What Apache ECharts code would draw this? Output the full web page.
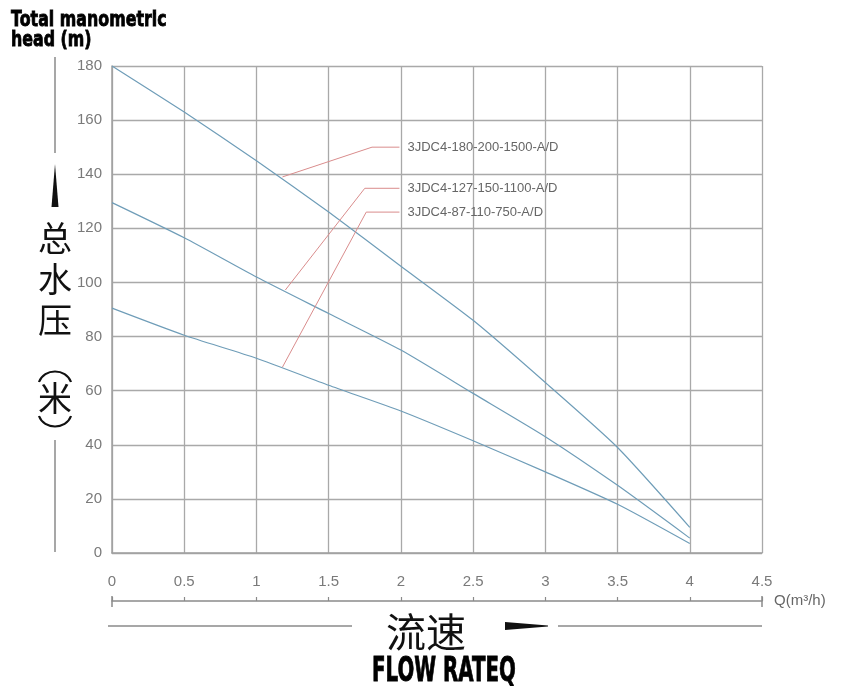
<!DOCTYPE html>
<html>
<head>
<meta charset="utf-8">
<script src="https://cdn.jsdelivr.net/npm/echarts@6/dist/echarts.min.js"></script>
<style>html,body{margin:0;padding:0;background:#fff;}#c{width:849px;height:691px;}</style>
</head>
<body>
<div id="c"></div>
<script>
// ---- data ----
var flowTicks = [0, 0.5, 1, 1.5, 2, 2.5, 3, 3.5, 4, 4.5];
var headTicks = [0, 20, 40, 60, 80, 100, 120, 140, 160, 180];
var flowQ = [0, 0.5, 1, 1.5, 2, 2.5, 3, 3.5, 4];
var pump1500 = [180, 163, 145, 126, 106, 86, 63, 39, 9.5];
var pump1100 = [129.5, 116.5, 102, 88.5, 75, 59, 43, 25, 5.5];
var pump750  = [90.5, 80.5, 72, 62, 52.5, 41.5, 30, 18, 3.5];
var names = ['3JDC4-180-200-1500-A/D', '3JDC4-127-150-1100-A/D', '3JDC4-87-110-750-A/D'];
var leader1500 = [[1.18, 139], [1.80, 150], [1.99, 150]];
var leader1100 = [[1.20, 97.2], [1.75, 134.8], [1.99, 134.8]];
var leader750  = [[1.18, 68.7], [1.76, 126], [1.99, 126]];

function pairs(xs, ys) { return xs.map(function (x, i) { return [x, ys[i]]; }); }

var chart = echarts.init(document.getElementById('c'));
var gridColor = '#a9a9a9';
var curveStyle = { color: '#6f9db8', width: 1.2 };
var leaderStyle = { color: '#d98c8c', width: 1 };
var latin = 'Liberation Sans, Arial, sans-serif';
var narrow = 'Liberation Sans Narrow, Liberation Sans, sans-serif';

function curve(name, data) {
  return { name: name, type: 'line', data: data, smooth: 0.2, symbol: 'none',
           lineStyle: curveStyle, itemStyle: { color: curveStyle.color }, silent: true, z: 3 };
}
function leader(name, pts) {
  return { name: name, type: 'line', data: pts, symbol: 'none',
           lineStyle: leaderStyle, itemStyle: { color: leaderStyle.color }, silent: true, z: 4,
           endLabel: { show: true, formatter: name, distance: 8, color: '#666', fontSize: 13, fontFamily: latin } };
}

var option = {
  animation: false,
  grid: { left: 112, right: 87, top: 66, bottom: 138 },
  xAxis: [{
    type: 'value', min: flowTicks[0], max: flowTicks[flowTicks.length - 1], interval: 0.5,
    axisLine: { show: true, lineStyle: { color: '#a0a0a0', width: 1.5 } },
    axisTick: { show: false },
    splitLine: { show: true, lineStyle: { color: gridColor, width: 1.3 } },
    axisLabel: { margin: 21, color: '#7a7a7a', fontSize: 15, fontFamily: narrow }
  }, {
    type: 'value', position: 'bottom', offset: 48,
    min: flowTicks[0], max: flowTicks[flowTicks.length - 1], interval: 0.5,
    axisLine: { show: true, onZero: false, lineStyle: { color: '#8a8a8a', width: 1.5 } },
    axisTick: { show: true, inside: true, length: 4, lineStyle: { color: '#8a8a8a', width: 1.2 } },
    splitLine: { show: false },
    axisLabel: { show: false },
    name: 'Q(m³/h)', nameLocation: 'end', nameGap: 12,
    nameTextStyle: { color: '#666', fontSize: 15, fontFamily: narrow, verticalAlign: 'middle' }
  }],
  yAxis: {
    type: 'value', min: headTicks[0], max: headTicks[headTicks.length - 1], interval: 20,
    axisLine: { show: true, lineStyle: { color: '#a0a0a0', width: 1.5 } },
    axisTick: { show: false },
    splitLine: { show: true, lineStyle: { color: gridColor, width: 1.3 } },
    axisLabel: { margin: 10, color: '#7a7a7a', fontSize: 15, fontFamily: narrow }
  },
  series: [
    curve(names[0], pairs(flowQ, pump1500)),
    curve(names[1], pairs(flowQ, pump1100)),
    curve(names[2], pairs(flowQ, pump750)),
    leader(names[0], leader1500),
    leader(names[1], leader1100),
    leader(names[2], leader750)
  ]
};
chart.setOption(option);

var x0 = chart.convertToPixel({ xAxisIndex: 0 }, flowTicks[0]);
var x1 = chart.convertToPixel({ xAxisIndex: 0 }, flowTicks[flowTicks.length - 1]);
var rulerY = 553 + 48;
var darkLine = { stroke: '#8a8a8a', lineWidth: 1.5 };
var cjk = 'Noto Sans CJK SC, sans-serif';
var heavy = 'DejaVu Sans, sans-serif';

function vchar(ch, y) {
  return { type: 'text', x: 55, y: y, style: { text: ch, fontSize: 34, fontFamily: cjk, fill: '#111',
           textAlign: 'center', textVerticalAlign: 'middle' } };
}
function heavyText(txt, x, y, size, sx, align) {
  return { type: 'text', x: x, y: y, scaleX: sx, style: { text: txt, fontSize: size, fontWeight: 'bold',
           fontFamily: heavy, fill: '#000', stroke: '#000', lineWidth: 0.9,
           textAlign: align, textVerticalAlign: 'middle' } };
}

chart.setOption({
  graphic: [
    // title
    heavyText('Total manometric', 11, 20, 22, 0.72, 'left'),
    heavyText('head (m)', 11, 40, 22, 0.72, 'left'),
    // left vertical decoration
    { type: 'line', shape: { x1: 55, y1: 57, x2: 55, y2: 153 }, style: darkLine },
    { type: 'polygon', shape: { points: [[51.5, 207], [58.5, 207], [55, 164]] }, style: { fill: '#111' } },
    vchar('总', 238), vchar('水', 279), vchar('压', 320), vchar('米', 398),
    { type: 'bezierCurve', shape: { x1: 39, y1: 382, x2: 71, y2: 382, cpx1: 44, cpy1: 368, cpx2: 66, cpy2: 368 },
      style: { stroke: '#111', lineWidth: 2.2, fill: null } },
    { type: 'bezierCurve', shape: { x1: 39, y1: 416, x2: 71, y2: 416, cpx1: 44, cpy1: 430, cpx2: 66, cpy2: 430 },
      style: { stroke: '#111', lineWidth: 2.2, fill: null } },
    { type: 'line', shape: { x1: 55, y1: 440, x2: 55, y2: 552 }, style: darkLine },
    // ruler end caps
    { type: 'line', shape: { x1: x0, y1: rulerY - 5, x2: x0, y2: rulerY + 6 }, style: darkLine },
    { type: 'line', shape: { x1: x1, y1: rulerY - 5, x2: x1, y2: rulerY + 6 }, style: darkLine },
    // bottom decoration
    { type: 'line', shape: { x1: 108, y1: 626, x2: 352, y2: 626 }, style: darkLine },
    { type: 'text', x: 426, y: 632, style: { text: '流速', fontSize: 40, fontFamily: cjk, fill: '#111',
      textAlign: 'center', textVerticalAlign: 'middle' } },
    { type: 'polygon', shape: { points: [[505, 622], [505, 630], [548, 626.5], [548, 625.5]] }, style: { fill: '#111' } },
    { type: 'line', shape: { x1: 558, y1: 626, x2: x1, y2: 626 }, style: darkLine },
    heavyText('FLOW RATEQ', 444, 672, 33, 0.6, 'center')
  ]
});
</script>
</body>
</html>
